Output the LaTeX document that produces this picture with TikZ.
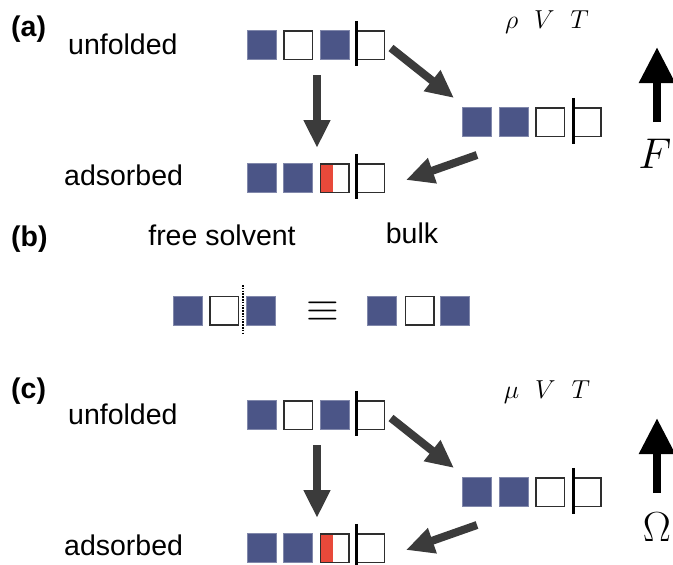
\documentclass[tikz,border=0pt]{standalone}
\usepackage{fix-cm}
\usepackage{fontspec}
\setsansfont{Liberation Sans}
\usetikzlibrary{arrows.meta}

\definecolor{qblue}{HTML}{4B5587}
\definecolor{qred}{HTML}{E8493A}
\definecolor{qgrey}{HTML}{3B3B3B}
\definecolor{qline}{HTML}{2E2E2E}

\tikzset{
  blk/.style={fill=qblue, draw=qblue!70!white, line width=0.6pt,
    minimum size=29.4pt, inner sep=0pt, outer sep=0pt},
  emp/.style={fill=white, draw=qline, line width=1.5pt,
    minimum size=28.5pt, inner sep=0pt, outer sep=0pt},
  lid/.style={emp, minimum width=27.5pt},
  half/.style={emp, path picture={
      \fill[qred] (path picture bounding box.north west)
        rectangle ([xshift=-1.5pt]path picture bounding box.south);}},
  wall/.style={line width=2.6pt, black},
  lbl/.style={font=\sffamily\fontsize{28.5}{28.5}\selectfont, anchor=base west, inner sep=0pt},
  tag/.style={font=\sffamily\bfseries\fontsize{28.5}{28.5}\selectfont, anchor=base west, inner sep=0pt},
  flow/.style={qgrey, line width=8pt,
    -{Triangle[length=28pt, width=25pt]}},
  force/.style={black, line width=8.5pt,
    -{Triangle[length=36pt, width=34pt]}},
}

\begin{document}
\begin{tikzpicture}[x=1pt, y=-1pt]
\useasboundingbox (0,0) rectangle (673,565);

% ---------------- (a) canonical ensemble ----------------
\node[tag] (ta) at (11,36) {(a)};
\node[lbl] (ua) at (68,54) {unfolded};
\node[lbl] (da) at (64,185) {adsorbed};
\node[anchor=center, inner sep=0pt] (ea) at (547,22)
  {\fontsize{26}{26}\selectfont$\rho\mkern11mu V\mkern11mu T$};

% unfolded chain
\node[blk] (a1) at (261.5,45) {};
\node[emp] (a2) at (298,45) {};
\node[blk] (a3) at (334.5,45) {};
\node[lid] (a4) at (370.5,45) {};
\draw[wall] ([yshift=10pt]a4.north west) -- ([yshift=-7pt]a4.south west);

% folded chain
\node[blk] (b1) at (477,122) {};
\node[blk] (b2) at (513.5,122) {};
\node[emp] (b3) at (550,122) {};
\node[lid] (b4) at (587,122) {};
\draw[wall] ([yshift=10pt]b4.north west) -- ([yshift=-8pt]b4.south west);

% adsorbed chain
\node[blk] (c1) at (261.5,178) {};
\node[blk] (c2) at (298,178) {};
\node[half] (c3) at (334.5,178) {};
\node[lid] (c4) at (370.5,178) {};
\draw[wall] ([yshift=10pt]c4.north west) -- ([yshift=-7pt]c4.south west);

% transitions
\coordinate (p1) at (317,75);  \coordinate (q1) at (317,148);
\coordinate (p2) at (391,48);  \coordinate (q2) at (454,98);
\coordinate (p3) at (477,155); \coordinate (q3) at (406,180);
\draw[flow] (p1) -- (q1);
\draw[flow] (p2) -- (q2);
\draw[flow] (p3) -- (q3);

% free energy axis
\coordinate (f0) at (657,122); \coordinate (f1) at (657,47);
\draw[force] (f0) -- (f1);
\node[inner sep=0pt] (fa) at (655,154) {\fontsize{43}{43}\selectfont$F$};

% ---------------- (b) solvent reference ----------------
\node[tag] (tb) at (11,246) {(b)};
\node[lbl, anchor=base] (fs) at (222,245) {free solvent};
\node[lbl, anchor=base] (bk) at (412,243) {bulk};

\node[blk] (s1) at (188,310.5) {};
\node[emp] (s2) at (224,310.5) {};
\node[blk] (s3) at (260.5,310.5) {};
\draw[black, line width=2.2pt, dash pattern=on 1.6pt off 1.2pt] (243,285) -- (243,335);
\node[inner sep=0pt] (eq) at (323,312) {\fontsize{42}{42}\selectfont$\equiv$};
\node[blk] (r1) at (382,310.5) {};
\node[emp] (r2) at (419.5,310.5) {};
\node[blk] (r3) at (455,310.5) {};

% ---------------- (c) grand canonical ensemble ----------------
\node[tag] (tc) at (11,398) {(c)};
\node[lbl] (uc) at (68,424) {unfolded};
\node[lbl] (dc) at (64,555) {adsorbed};
\node[anchor=center, inner sep=0pt] (ec) at (547,392)
  {\fontsize{26}{26}\selectfont$\mu\mkern11mu V\mkern11mu T$};

\node[blk] (g1) at (261.5,415) {};
\node[emp] (g2) at (298,415) {};
\node[blk] (g3) at (334.5,415) {};
\node[lid] (g4) at (370.5,415) {};
\draw[wall] ([yshift=10pt]g4.north west) -- ([yshift=-7pt]g4.south west);

\node[blk] (h1) at (477,492) {};
\node[blk] (h2) at (513.5,492) {};
\node[emp] (h3) at (550,492) {};
\node[lid] (h4) at (587,492) {};
\draw[wall] ([yshift=10pt]h4.north west) -- ([yshift=-8pt]h4.south west);

\node[blk] (k1) at (261.5,548) {};
\node[blk] (k2) at (298,548) {};
\node[half] (k3) at (334.5,548) {};
\node[lid] (k4) at (370.5,548) {};
\draw[wall] ([yshift=10pt]k4.north west) -- ([yshift=-7pt]k4.south west);

\coordinate (p4) at (317,445);  \coordinate (q4) at (317,518);
\coordinate (p5) at (391,418);  \coordinate (q5) at (454,468);
\coordinate (p6) at (477,525);  \coordinate (q6) at (406,550);
\draw[flow] (p4) -- (q4);
\draw[flow] (p5) -- (q5);
\draw[flow] (p6) -- (q6);

\coordinate (o0) at (657,493); \coordinate (o1) at (657,418);
\draw[force] (o0) -- (o1);
\node[inner sep=0pt] (om) at (657,527) {\fontsize{42}{42}\selectfont$\Omega$};
\end{tikzpicture}
\end{document}
